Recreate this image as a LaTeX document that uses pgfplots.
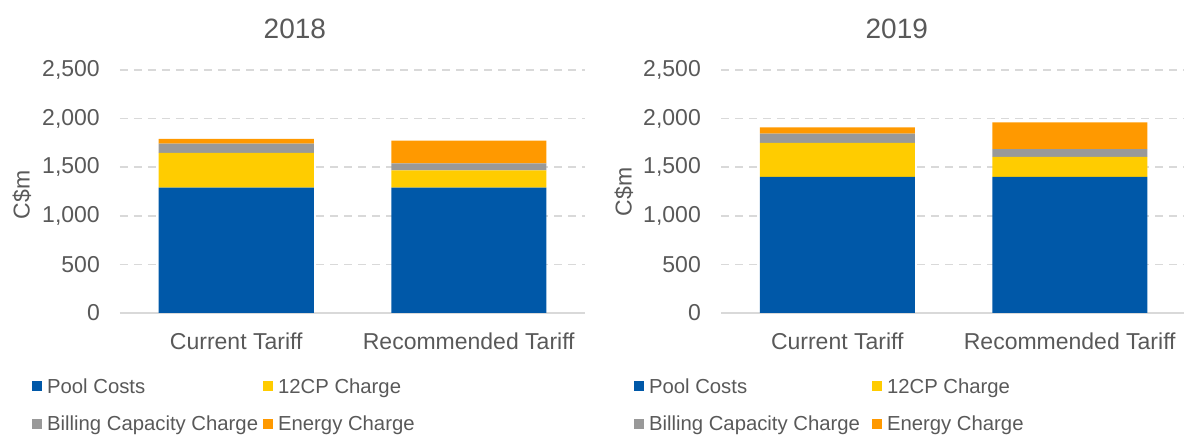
\documentclass[border=0pt]{standalone}
\usepackage{pgfplots}
\pgfplotsset{compat=1.18}
\usepackage{fontspec}
\setmainfont{Liberation Sans}
\definecolor{cBlue}{HTML}{0058A8}
\definecolor{cYellow}{HTML}{FFCC00}
\definecolor{cGray}{HTML}{999999}
\definecolor{cOrange}{HTML}{FF9900}
\definecolor{cText}{HTML}{595959}
\definecolor{cGrid}{HTML}{D9D9D9}
\pgfplotsset{
  myleg/.style={legend image code/.code={\fill[##1] (0pt,-3pt) rectangle (10pt,7pt); \path (15pt,0pt);}},
  mychart/.style={
    scale only axis, width=465pt, height=243pt,
    anchor=south west,
    ybar stacked, bar width=155pt,
    xmin=-0.5, xmax=1.5, ymin=0, ymax=2500,
    xtick={0,1}, xticklabels={Current Tariff, Recommended Tariff},
    ytick={0,500,1000,1500,2000,2500},
    scaled y ticks=false,
    /pgf/number format/1000 sep={,},
    /pgf/number format/assume math mode=true,
    axis x line*=bottom, axis y line*=left,
    x axis line style={draw=cGrid, line width=1.5pt},
    y axis line style={draw=none},
    tick style={draw=none},
    ymajorgrids,
    major grid style={draw=cGrid, line width=1.5pt, dash pattern=on 8pt off 6pt},
    yticklabel style={font=\fontsize{23}{27}\selectfont, text=cText, anchor=east, inner sep=0pt, xshift=-20pt},
    xticklabel style={font=\fontsize{23}{27}\selectfont, text=cText, anchor=north, inner sep=0pt, yshift=-20pt},
    title style={font=\fontsize{28}{32}\selectfont, text=cText, anchor=center, yshift=35pt},
    ylabel style={font=\fontsize{23}{27}\selectfont, text=cText, anchor=center},
    legend columns=2,
    legend cell align=left,
    legend style={draw=none, fill=none, inner sep=0pt, outer sep=0pt, column sep=0pt, row sep=17.7pt,
      anchor=north west, text=cText,
      nodes={inner sep=0pt, text height=15pt, text depth=5pt, font=\fontsize{20.3}{24}\selectfont, text=cText}},
  }
}
\begin{document}
\begin{tikzpicture}[x=1pt,y=1pt]
\useasboundingbox (0,0) rectangle (1184,436);
\begin{axis}[mychart, at={(120pt,123pt)},
  title={2018}, title style={at={(axis description cs:0.376,1)}},
  ylabel={C\$m}, ylabel style={at={(axis description cs:-0.211,0.486)}},
  legend style={at={(axis description cs:-0.189,-0.268)}}]
\addplot[fill=cBlue, draw=none, myleg] coordinates {(0,1290) (1,1290)};
\addlegendentry{\makebox[216pt][l]{Pool Costs}}
\addplot[fill=cYellow, draw=none, myleg] coordinates {(0,357) (1,178)};
\addlegendentry{12CP Charge}
\addplot[fill=cGray, draw=none, myleg] coordinates {(0,96) (1,72)};
\addlegendentry{\makebox[216pt][l]{Billing Capacity Charge}}
\addplot[fill=cOrange, draw=none, myleg] coordinates {(0,48) (1,233)};
\addlegendentry{Energy Charge}
\end{axis}
\begin{axis}[mychart, at={(721pt,123pt)},
  title={2019}, title style={at={(axis description cs:0.378,1)}},
  ylabel={C\$m}, ylabel style={at={(axis description cs:-0.2086,0.498)}},
  legend style={at={(axis description cs:-0.187,-0.268)}}]
\addplot[fill=cBlue, draw=none, myleg] coordinates {(0,1400) (1,1400)};
\addlegendentry{\makebox[223pt][l]{Pool Costs}}
\addplot[fill=cYellow, draw=none, myleg] coordinates {(0,350) (1,205)};
\addlegendentry{12CP Charge}
\addplot[fill=cGray, draw=none, myleg] coordinates {(0,95) (1,82)};
\addlegendentry{\makebox[223pt][l]{Billing Capacity Charge}}
\addplot[fill=cOrange, draw=none, myleg] coordinates {(0,65) (1,275)};
\addlegendentry{Energy Charge}
\end{axis}
\end{tikzpicture}
\end{document}
